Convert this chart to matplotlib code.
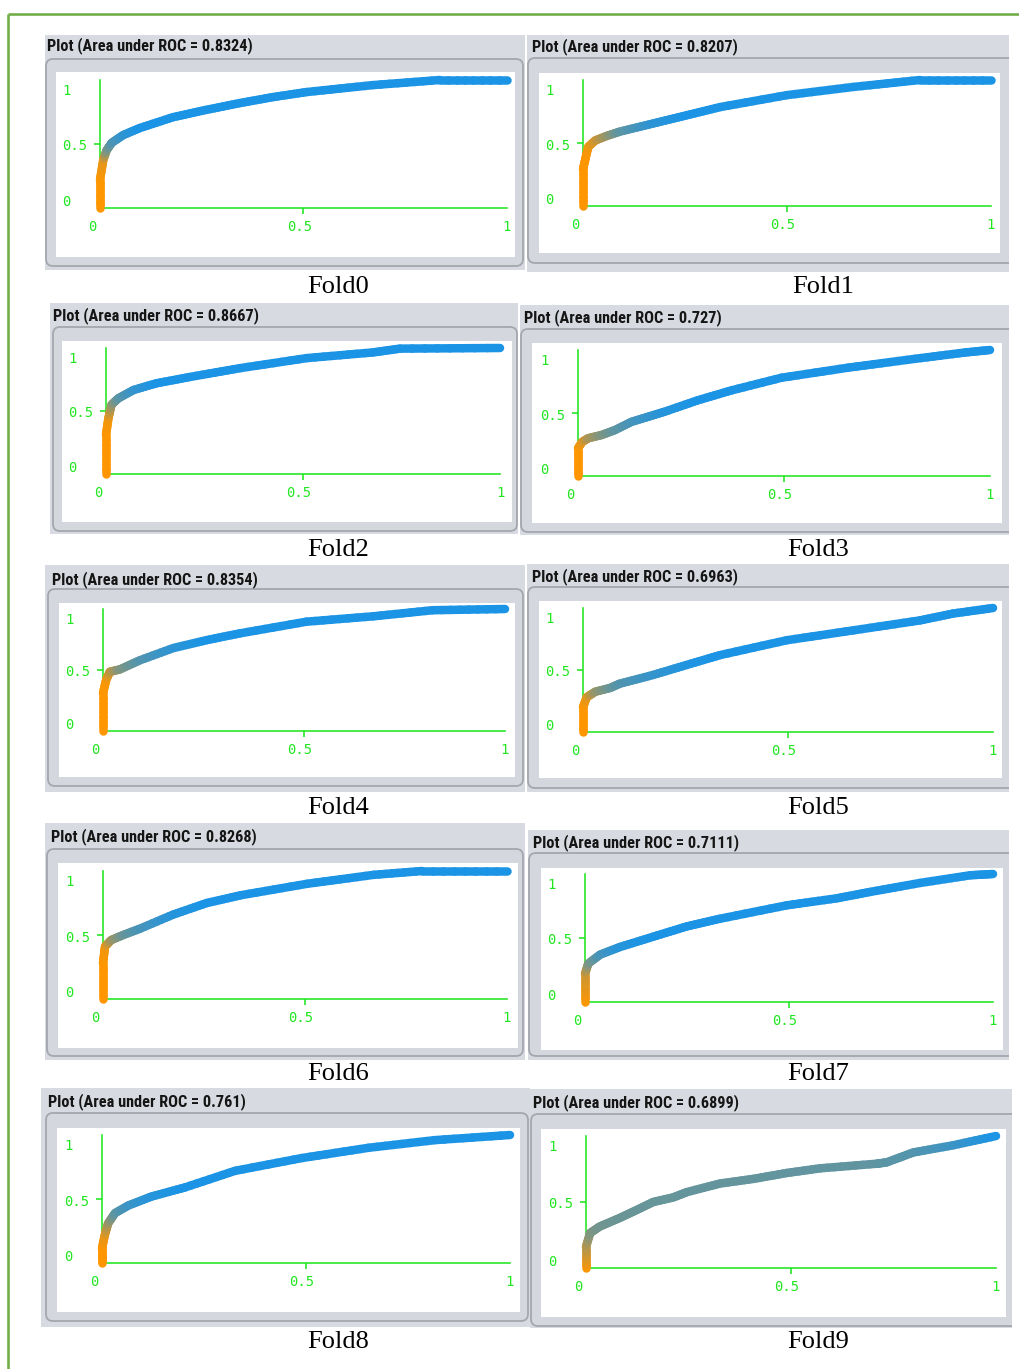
import numpy as np
import matplotlib
matplotlib.use("Agg")
import matplotlib.pyplot as plt
from matplotlib.collections import LineCollection
from matplotlib.patches import Rectangle, FancyBboxPatch
from matplotlib.lines import Line2D
from matplotlib import font_manager

# ---------------- data ----------------
fold_names = ["Fold0", "Fold1", "Fold2", "Fold3", "Fold4",
              "Fold5", "Fold6", "Fold7", "Fold8", "Fold9"]
auc_values = ["0.8324", "0.8207", "0.8667", "0.727", "0.8354",
              "0.6963", "0.8268", "0.7111", "0.761", "0.6899"]
x_tick_values = [0.0, 0.5, 1.0]
x_tick_labels = ["0", "0.5", "1"]
y_tick_values = [1.0, 0.5, 0.0]
y_tick_labels = ["1", "0.5", "0"]

# false positive rate / true positive rate / threshold colour weight (0 = orange, 1 = blue)
fpr0 = [0.0, 0.0, 0.008, 0.016, 0.029, 0.057, 0.098, 0.18, 0.26, 0.344, 0.426, 0.508, 0.67, 0.835, 1.0]
tpr0 = [0.0, 0.22, 0.375, 0.45, 0.51, 0.57, 0.625, 0.71, 0.766, 0.82, 0.867, 0.906, 0.96, 1.0, 1.0]
thr0 = [0.0, 0.0, 0.1, 0.55, 0.75, 0.9, 1.0, 1.0, 1.0, 1.0, 1.0, 1.0, 1.0, 1.0, 1.0]

fpr1 = [0.0, 0.0, 0.007, 0.013, 0.03, 0.058, 0.09, 0.172, 0.254, 0.336, 0.5, 0.663, 0.826, 1.0]
tpr1 = [0.0, 0.29, 0.39, 0.47, 0.52, 0.556, 0.59, 0.655, 0.72, 0.785, 0.88, 0.945, 1.0, 1.0]
thr1 = [0.0, 0.0, 0.0, 0.05, 0.2, 0.45, 0.7, 0.92, 1.0, 1.0, 1.0, 1.0, 1.0, 1.0]

fpr2 = [0.0, 0.0, 0.006, 0.014, 0.031, 0.07, 0.128, 0.213, 0.34, 0.51, 0.678, 0.746, 1.0]
tpr2 = [0.0, 0.31, 0.44, 0.55, 0.60, 0.667, 0.72, 0.77, 0.84, 0.92, 0.965, 0.995, 1.0]
thr2 = [0.0, 0.0, 0.05, 0.45, 0.7, 0.88, 1.0, 1.0, 1.0, 1.0, 1.0, 1.0, 1.0]

fpr3 = [0.0, 0.0, 0.01, 0.025, 0.057, 0.09, 0.13, 0.17, 0.21, 0.29, 0.373, 0.494, 0.656, 0.818, 0.939, 1.0]
tpr3 = [0.0, 0.22, 0.27, 0.30, 0.325, 0.365, 0.43, 0.47, 0.51, 0.60, 0.68, 0.78, 0.86, 0.93, 0.98, 1.0]
thr3 = [0.0, 0.0, 0.1, 0.35, 0.55, 0.7, 0.8, 0.88, 0.95, 1.0, 1.0, 1.0, 1.0, 1.0, 1.0, 1.0]

fpr4 = [0.0, 0.0, 0.008, 0.017, 0.042, 0.092, 0.175, 0.258, 0.34, 0.506, 0.672, 0.82, 1.0]
tpr4 = [0.0, 0.31, 0.42, 0.485, 0.505, 0.58, 0.68, 0.745, 0.80, 0.896, 0.94, 0.99, 1.0]
thr4 = [0.0, 0.0, 0.02, 0.25, 0.55, 0.75, 0.92, 1.0, 1.0, 1.0, 1.0, 1.0, 1.0]

fpr5 = [0.0, 0.0, 0.009, 0.03, 0.066, 0.09, 0.171, 0.252, 0.334, 0.497, 0.66, 0.822, 0.902, 1.0]
tpr5 = [0.0, 0.2, 0.28, 0.325, 0.355, 0.39, 0.46, 0.54, 0.62, 0.74, 0.82, 0.90, 0.955, 1.0]
thr5 = [0.0, 0.0, 0.1, 0.45, 0.65, 0.75, 0.88, 0.97, 1.0, 1.0, 1.0, 1.0, 1.0, 1.0]

fpr6 = [0.0, 0.0, 0.005, 0.02, 0.05, 0.092, 0.174, 0.257, 0.34, 0.505, 0.67, 0.79, 1.0]
tpr6 = [0.0, 0.28, 0.41, 0.46, 0.50, 0.55, 0.66, 0.75, 0.81, 0.90, 0.97, 1.0, 1.0]
thr6 = [0.0, 0.0, 0.05, 0.4, 0.65, 0.8, 0.95, 1.0, 1.0, 1.0, 1.0, 1.0, 1.0]

fpr7 = [0.0, 0.0, 0.008, 0.037, 0.086, 0.167, 0.249, 0.33, 0.494, 0.617, 0.699, 0.821, 0.944, 1.0]
tpr7 = [0.0, 0.22, 0.30, 0.37, 0.43, 0.51, 0.59, 0.65, 0.755, 0.81, 0.86, 0.93, 0.99, 1.0]
thr7 = [0.0, 0.2, 0.55, 0.8, 0.95, 1.0, 1.0, 1.0, 1.0, 1.0, 1.0, 1.0, 1.0, 1.0]

fpr8 = [0.0, 0.0, 0.007, 0.015, 0.032, 0.065, 0.122, 0.203, 0.326, 0.49, 0.653, 0.816, 1.0]
tpr8 = [0.0, 0.115, 0.22, 0.31, 0.39, 0.45, 0.52, 0.59, 0.72, 0.82, 0.90, 0.96, 1.0]
thr8 = [0.0, 0.0, 0.1, 0.4, 0.7, 0.85, 0.95, 1.0, 1.0, 1.0, 1.0, 1.0, 1.0]

fpr9 = [0.0, 0.0, 0.01, 0.034, 0.083, 0.124, 0.164, 0.213, 0.246, 0.327, 0.408, 0.49, 0.571, 0.709, 0.733, 0.798, 0.896, 1.0]
tpr9 = [0.0, 0.16, 0.265, 0.315, 0.38, 0.44, 0.50, 0.535, 0.575, 0.64, 0.675, 0.72, 0.755, 0.79, 0.80, 0.875, 0.93, 1.0]
thr9 = [0.0, 0.3, 0.55, 0.62, 0.65, 0.66, 0.67, 0.67, 0.68, 0.68, 0.68, 0.69, 0.69, 0.70, 0.72, 0.75, 0.85, 1.0]

curves = [(fpr0, tpr0, thr0), (fpr1, tpr1, thr1), (fpr2, tpr2, thr2), (fpr3, tpr3, thr3),
          (fpr4, tpr4, thr4), (fpr5, tpr5, thr5), (fpr6, tpr6, thr6), (fpr7, tpr7, thr7),
          (fpr8, tpr8, thr8), (fpr9, tpr9, thr9)]

# ---------------- layout (pixels) ----------------
layout = [
    dict(gray=(45, 525, 35, 270), frame=(45, 524, 58, 267), white=(56, 515, 72, 257),
         axis=(100, 507, 80, 208), title=(47, 46), cap=(338, 287)),
    dict(gray=(527, 1009, 35, 272), frame=(527, 1040, 57, 264), white=(539, 1000, 73, 253),
         axis=(583, 991, 80, 206), title=(532, 47), cap=(823, 287)),
    dict(gray=(50, 518, 303, 534), frame=(52, 518, 326, 532), white=(62, 512, 341, 522),
         axis=(106, 500, 348, 474), title=(53, 316), cap=(338, 550)),
    dict(gray=(520, 1009, 305, 535), frame=(520, 1040, 328, 533), white=(532, 1002, 343, 523),
         axis=(578, 990, 350, 476), title=(524, 318), cap=(818, 550)),
    dict(gray=(45, 525, 565, 792), frame=(47, 524, 588, 787), white=(59, 515, 603, 777),
         axis=(103, 505, 609, 731), title=(52, 580), cap=(338, 808)),
    dict(gray=(527, 1009, 564, 792), frame=(527, 1040, 586, 789), white=(539, 1002, 601, 778),
         axis=(583, 993, 608, 732), title=(532, 577), cap=(818, 808)),
    dict(gray=(45, 525, 823, 1060), frame=(46, 524, 848, 1057), white=(58, 518, 863, 1048),
         axis=(103, 507, 871, 999), title=(51, 837), cap=(338, 1074)),
    dict(gray=(528, 1009, 830, 1060), frame=(528, 1040, 852, 1057), white=(541, 1003, 868, 1050),
         axis=(585, 993, 874, 1002), title=(533, 843), cap=(818, 1074)),
    dict(gray=(41, 530, 1088, 1327), frame=(45, 529, 1112, 1322), white=(57, 520, 1128, 1312),
         axis=(102, 510, 1135, 1263), title=(48, 1102), cap=(338, 1342)),
    dict(gray=(530, 1012, 1089, 1328), frame=(530, 1040, 1113, 1327), white=(541, 1006, 1129, 1317),
         axis=(586, 996, 1136, 1268), title=(533, 1103), cap=(818, 1342)),
]

W, H, DPI = 1020, 1369, 100
PX = 72.0 / DPI  # points per pixel

ORANGE = np.array([255, 150, 0]) / 255.0
BLUE = np.array([27, 148, 230]) / 255.0
GREEN = "#22e622"
TITLE_GRAY = "#d7dae0"
FRAME_GRAY = "#d4d7dd"
FRAME_EDGE = "#a4a8ae"


def pick_font(cands):
    names = {f.name for f in font_manager.fontManager.ttflist}
    for c in cands:
        if c in names:
            return c
    return "DejaVu Sans"


title_family = pick_font(["Liberation Sans Narrow", "Roboto Condensed", "Liberation Sans"])
title_size = 11.7 if ("Narrow" in title_family or "Condensed" in title_family) else 9.6

fig = plt.figure(figsize=(W / DPI, H / DPI), dpi=DPI)
fig.patch.set_facecolor("white")

bg = fig.add_axes([0, 0, 1, 1], zorder=0)
bg.set_xlim(0, W)
bg.set_ylim(H, 0)
bg.axis("off")

# outer green border of the page
bg.add_line(Line2D([8, W], [14, 14], color="#70ad47", lw=2.6 * PX, solid_capstyle="butt"))
bg.add_line(Line2D([8, 8], [14, H], color="#70ad47", lw=2.6 * PX, solid_capstyle="butt"))


def colour(b):
    return tuple(ORANGE + (BLUE - ORANGE) * b)


for i, (lay, (fx, fy, fb)) in enumerate(zip(layout, curves)):
    gl, gr, gt, gb = lay["gray"]
    grect = Rectangle((gl, gt), gr - gl, gb - gt, facecolor=TITLE_GRAY, edgecolor="none", zorder=1)
    bg.add_patch(grect)
    fl, fr, ft, fbm = lay["frame"]
    frame = FancyBboxPatch((fl + 1, ft + 1), fr - fl - 2, fbm - ft - 2,
                           boxstyle="round,pad=0,rounding_size=7",
                           facecolor=FRAME_GRAY, edgecolor=FRAME_EDGE, lw=1.3, zorder=2)
    bg.add_patch(frame)
    frame.set_clip_path(grect)
    wl, wr, wt, wb = lay["white"]
    bg.add_patch(Rectangle((wl, wt), wr - wl, wb - wt, facecolor="white", edgecolor="none", zorder=3))
    tx, ty = lay["title"]
    bg.text(tx, ty, f"Plot (Area under ROC = {auc_values[i]})", ha="left", va="center",
            fontsize=title_size, fontweight="bold", family=title_family, color="#151515", zorder=4)
    cx, cy = lay["cap"]
    bg.text(cx, cy, fold_names[i], ha="center", va="center", fontsize=19,
            family="Liberation Serif", color="black", zorder=4)

    # ROC axes
    x0, x1, yt, yb = lay["axis"]
    ax = fig.add_axes([x0 / W, 1 - yb / H, (x1 - x0) / W, (yb - yt) / H], zorder=2)
    ax.set_xlim(0, 1)
    ax.set_ylim(0, 1)
    ax.patch.set_visible(False)
    for s in ("top", "right"):
        ax.spines[s].set_visible(False)
    for s in ("left", "bottom"):
        ax.spines[s].set_color(GREEN)
        ax.spines[s].set_linewidth(1.6 * PX)
    ax.set_xticks([0.5])
    ax.set_yticks([0.5])
    ax.tick_params(length=6 * PX, width=1.6 * PX, color=GREEN, direction="out",
                   labelbottom=False, labelleft=False)

    # tick labels (Weka style offsets)
    x_dx = [-8, -4, 0]
    for v, lbl, dx in zip(x_tick_values, x_tick_labels, x_dx):
        ax.annotate(lbl, xy=(v, 0), xycoords="data", xytext=(dx * PX, -19 * PX),
                    textcoords="offset points", ha="center", va="center",
                    family="DejaVu Sans Mono", fontsize=10, color=GREEN, annotation_clip=False)
    y_dy = [-11, -2.5, 6]
    for v, lbl, dy in zip(y_tick_values, y_tick_labels, y_dy):
        ax.annotate(lbl, xy=(0, v), xycoords="data", xytext=(-38 * PX, dy * PX),
                    textcoords="offset points", ha="left", va="center",
                    family="DejaVu Sans Mono", fontsize=10, color=GREEN, annotation_clip=False)

    # gradient-coloured ROC curve
    fx = np.asarray(fx, float)
    fy = np.asarray(fy, float)
    fb = np.asarray(fb, float)
    segs, cols = [], []
    nsub = 8
    for k in range(len(fx) - 1):
        t = np.linspace(0, 1, nsub + 1)
        px = fx[k] + (fx[k + 1] - fx[k]) * t
        py = fy[k] + (fy[k + 1] - fy[k]) * t
        pb = fb[k] + (fb[k + 1] - fb[k]) * t
        for j in range(nsub):
            segs.append([(px[j], py[j]), (px[j + 1], py[j + 1])])
            cols.append(colour(0.5 * (pb[j] + pb[j + 1])))
    lc = LineCollection(segs, colors=cols, linewidths=8.5 * PX, capstyle="round",
                        joinstyle="round", clip_on=False, zorder=5)
    ax.add_collection(lc)

fig.savefig("out.png", dpi=DPI, facecolor="white")
